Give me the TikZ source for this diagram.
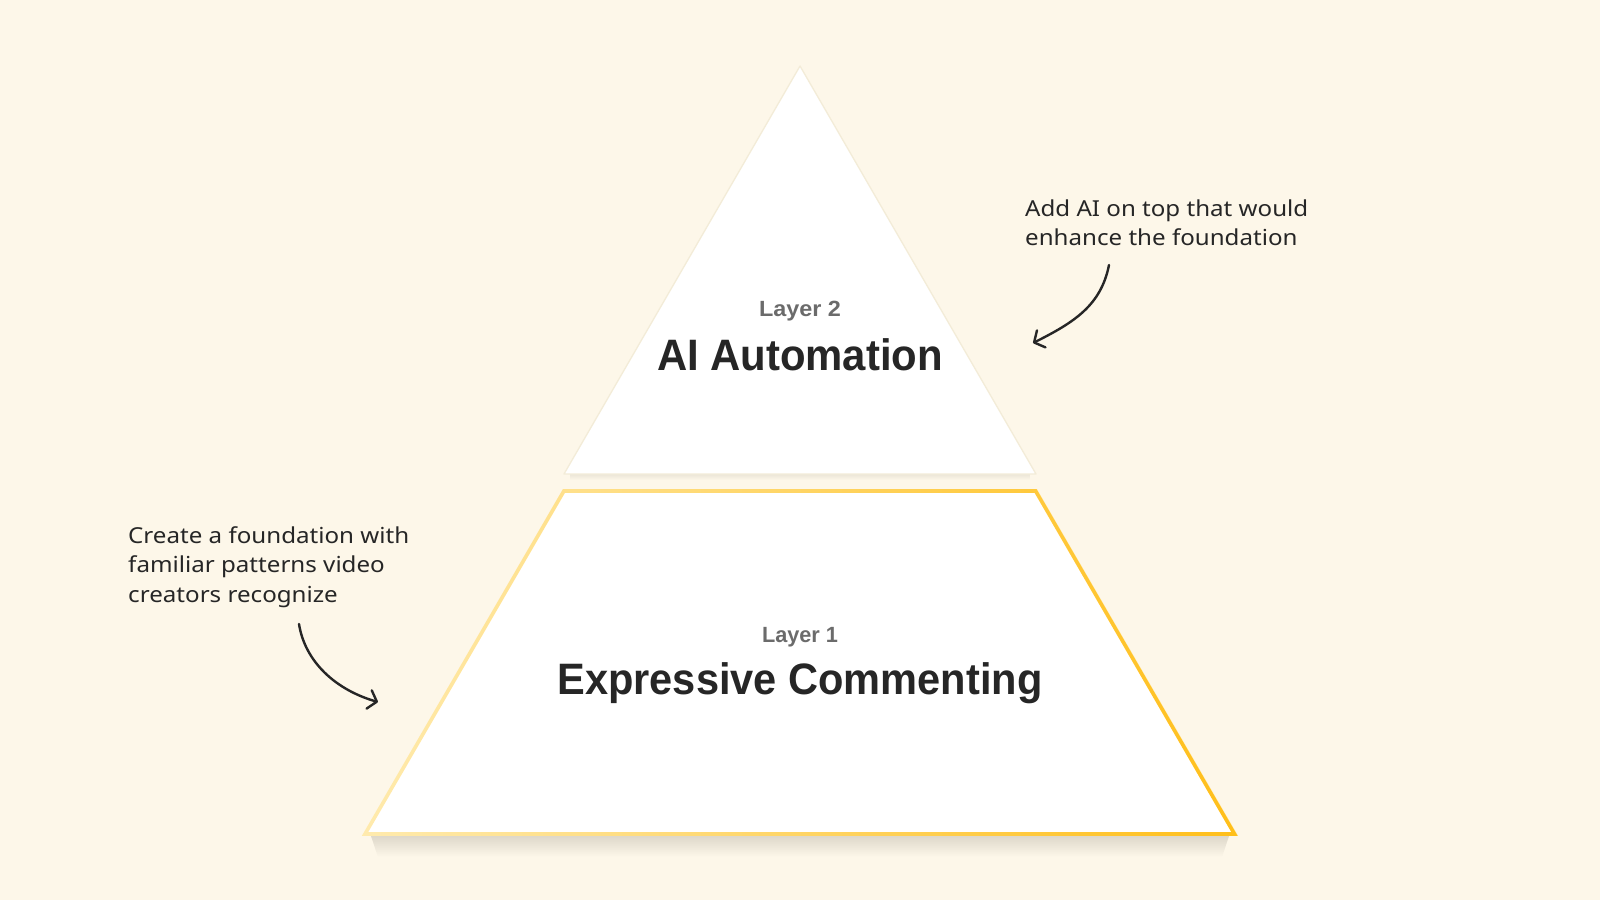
\documentclass[tikz,border=0pt]{standalone}
\usepackage{fontspec}
\usepackage{graphicx}
\setmainfont{Noto Sans}
\newfontfamily\titlefont{Liberation Sans}
\usetikzlibrary{arrows.meta,fadings}
\definecolor{bgcol}{HTML}{FDF7E9}
\definecolor{ylo}{HTML}{FFEBAE}
\definecolor{yhi}{HTML}{FFBF1A}
\definecolor{tribord}{HTML}{F3ECD8}
\definecolor{inkcol}{HTML}{262626}
\definecolor{greycol}{HTML}{6B6B6B}
\definecolor{shadecol}{HTML}{6E6450}
\newcommand\fitw[2]{\resizebox{#1}{\height}{#2}}
\tikzset{
  layerlbl/.style={anchor=base, inner sep=0pt, text=greycol, font=\titlefont\bfseries\fontsize{22}{26}\selectfont},
  titlelbl/.style={anchor=base, inner sep=0pt, text=inkcol, font=\titlefont\bfseries\fontsize{44}{50}\selectfont},
  notelbl/.style={anchor=base west, inner sep=0pt, text=inkcol, font=\fontsize{22}{29.5}\selectfont},
  handarrow/.style={draw=inkcol, line width=2.4pt, line cap=round, line join=round,
    -{Straight Barb[length=8pt,width=19pt,line cap=round,line join=round]}},
  shadowlayer/.style={fill=shadecol, fill opacity=#1},
}
\begin{document}
\begin{tikzpicture}[x=1pt,y=-1pt]
\fill[bgcol] (0,0) rectangle (1600,900);
\useasboundingbox (0,0) rectangle (1600,900);

% pyramid coordinates
\coordinate (apex) at (800,66);
\coordinate (tbl) at (564,474);
\coordinate (tbr) at (1036,474);
\coordinate (qtl) at (564,491);
\coordinate (qtr) at (1036,491);
\coordinate (qbl) at (365,834);
\coordinate (qbr) at (1235,834);

% soft shadows (stacked translucent copies)
\foreach \k in {1,2,...,6}{
  \fill[shadowlayer=0.018] ([xshift=6pt]tbl) -- ([xshift=-6pt]tbr) -- ([xshift=-6pt,yshift=-\k pt]tbr) -- ([xshift=6pt,yshift=-\k pt]tbl) -- cycle;
}
\foreach \k in {2,4,...,22}{
  \fill[shadowlayer=0.02] ([xshift=6pt,yshift=-2pt]qbl) -- ([xshift=-6pt,yshift=-2pt]qbr) -- ([xshift=-6pt-0.3*\k pt,yshift=-\k pt]qbr) -- ([xshift=6pt+0.3*\k pt,yshift=-\k pt]qbl) -- cycle;
}

% top triangle
\fill[white] (apex) -- (tbr) -- (tbl) -- cycle;
\draw[tribord, line width=1.3pt, line join=round] (apex) -- (tbr) -- (tbl) -- cycle;

% bottom trapezoid
\fill[white] (qbl) -- (qtl) -- (qtr) -- (qbr) -- cycle;
\draw[ylo, line width=3.6pt, line join=miter] (qbl) -- (qtl) -- (qtr) -- (qbr) -- cycle;
\draw[yhi, line width=3.6pt, line join=miter, path fading=west] (qbl) -- (qtl) -- (qtr) -- (qbr) -- cycle;

% labels
\node[layerlbl] (l2) at (800,316) {\fitw{82pt}{Layer 2}};
\node[titlelbl] (t2) at (800,370) {\fitw{286pt}{AI Automation}};
\node[layerlbl] (l1) at (800,642) {\fitw{76pt}{Layer 1}};
\node[titlelbl] (t1) at (800,694) {\fitw{485pt}{Expressive Commenting}};

% annotations
\node[notelbl] (nr) at (1025,216) {\fitw{283pt}{\begin{tabular}[t]{@{}l@{}}Add AI on top that would\\ enhance the foundation\end{tabular}}};
\node[notelbl] (nl) at (128,543) {\fitw{281pt}{\begin{tabular}[t]{@{}l@{}}Create a foundation with\\ familiar patterns video\\ creators recognize\end{tabular}}};

% arrows
\coordinate (ra0) at (1109,265);
\coordinate (ra1) at (1033,343);
\coordinate (la0) at (299,624);
\coordinate (la1) at (378,702);
\draw[handarrow] (ra0) .. controls (1101,305) and (1075,322) .. (ra1);
\draw[handarrow] (la0) .. controls (305,662) and (336,690) .. (la1);
\end{tikzpicture}
\end{document}
